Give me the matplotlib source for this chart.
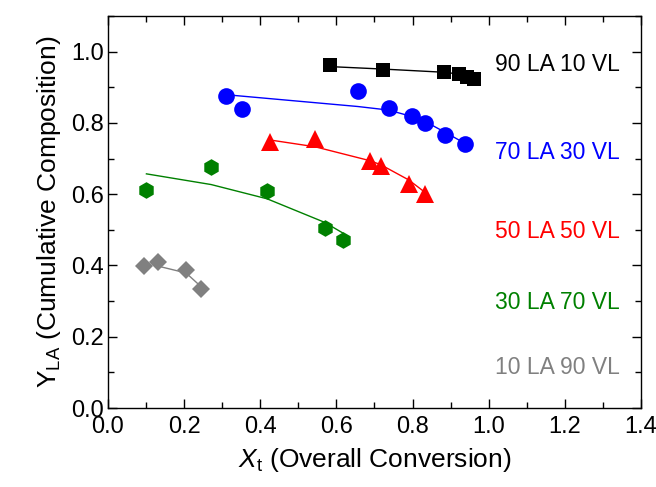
import matplotlib
matplotlib.use("Agg")
import matplotlib.pyplot as plt
from matplotlib.ticker import MultipleLocator

plt.rcParams['font.family'] = ['Liberation Sans', 'DejaVu Sans']
plt.rcParams['mathtext.fontset'] = 'custom'
plt.rcParams['mathtext.rm'] = 'Liberation Sans'
plt.rcParams['mathtext.it'] = 'Liberation Sans:italic'

# Measured points (X_t, Y_LA) for each feed composition
x_90 = [0.582, 0.723, 0.884, 0.922, 0.943, 0.961]
y_90 = [0.963, 0.949, 0.944, 0.937, 0.930, 0.922]
x_70 = [0.311, 0.353, 0.656, 0.737, 0.798, 0.833, 0.885, 0.937]
y_70 = [0.875, 0.838, 0.890, 0.842, 0.820, 0.800, 0.766, 0.740]
x_50 = [0.426, 0.544, 0.688, 0.716, 0.790, 0.833]
y_50 = [0.745, 0.755, 0.694, 0.680, 0.628, 0.600]
x_30 = [0.101, 0.271, 0.418, 0.569, 0.617]
y_30 = [0.613, 0.676, 0.610, 0.505, 0.472]
x_10 = [0.095, 0.132, 0.205, 0.244]
y_10 = [0.398, 0.409, 0.388, 0.335]

# Model curves
fx_90 = [0.582, 0.723, 0.884, 0.922, 0.943, 0.961]
fy_90 = [0.958, 0.951, 0.942, 0.937, 0.933, 0.929]
fx_70 = [0.311, 0.656, 0.737, 0.798, 0.833, 0.885, 0.937]
fy_70 = [0.879, 0.846, 0.836, 0.818, 0.804, 0.774, 0.743]
fx_50 = [0.426, 0.544, 0.688, 0.716, 0.790, 0.833]
fy_50 = [0.752, 0.733, 0.694, 0.683, 0.640, 0.605]
fx_30 = [0.101, 0.271, 0.418, 0.569, 0.617]
fy_30 = [0.657, 0.627, 0.587, 0.521, 0.491]
fx_10 = [0.132, 0.205, 0.244]
fy_10 = [0.398, 0.379, 0.341]

labels = ['90 LA 10 VL', '70 LA 30 VL', '50 LA 50 VL', '30 LA 70 VL', '10 LA 90 VL']
label_y = [0.965, 0.717, 0.494, 0.295, 0.115]
colors = ['black', '#0000FF', '#FF0000', '#008000', '#808080']
markers = ['s', 'o', '^', 'h', 'D']
msizes = [10, 12, 13, 12, 9.5]

series = [(x_90, y_90, fx_90, fy_90), (x_70, y_70, fx_70, fy_70),
          (x_50, y_50, fx_50, fy_50), (x_30, y_30, fx_30, fy_30),
          (x_10, y_10, fx_10, fy_10)]

fig = plt.figure(figsize=(6.56, 4.87), dpi=100)
ax = fig.add_axes([0.1646, 0.1622, 0.8124, 0.805])

for (xs, ys, fxs, fys), c, m, ms in zip(series, colors, markers, msizes):
    ax.plot(fxs, fys, '-', color=c, lw=1.0, zorder=2)
    ax.plot(xs, ys, linestyle='none', marker=m, ms=ms, color=c,
            markeredgewidth=0, zorder=3)

for txt, ty, c in zip(labels, label_y, colors):
    ax.text(1.345, ty, txt, color=c, fontsize=16.5, ha='right', va='center')

ax.set_xlim(0, 1.4)
ax.set_ylim(0, 1.1)
ax.xaxis.set_major_locator(MultipleLocator(0.2))
ax.xaxis.set_minor_locator(MultipleLocator(0.1))
ax.yaxis.set_major_locator(MultipleLocator(0.2))
ax.yaxis.set_minor_locator(MultipleLocator(0.1))
ax.xaxis.set_major_formatter(plt.FuncFormatter(lambda v, p: f"{v:.1f}"))
ax.yaxis.set_major_formatter(plt.FuncFormatter(lambda v, p: f"{v:.1f}"))
ax.tick_params(which='both', direction='in', top=True, right=True,
               labelsize=17, width=1.0)
ax.tick_params(which='major', length=6.5)
ax.tick_params(which='minor', length=4.5)
ax.tick_params(axis='x', which='major', pad=5.5)
ax.tick_params(axis='y', which='major', pad=3)
for s in ax.spines.values():
    s.set_linewidth(1.0)

ax.set_xlabel(r'$X_{\mathrm{t}}$ (Overall Conversion)', fontsize=19, labelpad=6)
ax.set_ylabel(r'$\mathrm{Y}_{\mathrm{LA}}$ (Cumulative Composition)', fontsize=19, labelpad=6)

fig.savefig('out.png', dpi=100)
